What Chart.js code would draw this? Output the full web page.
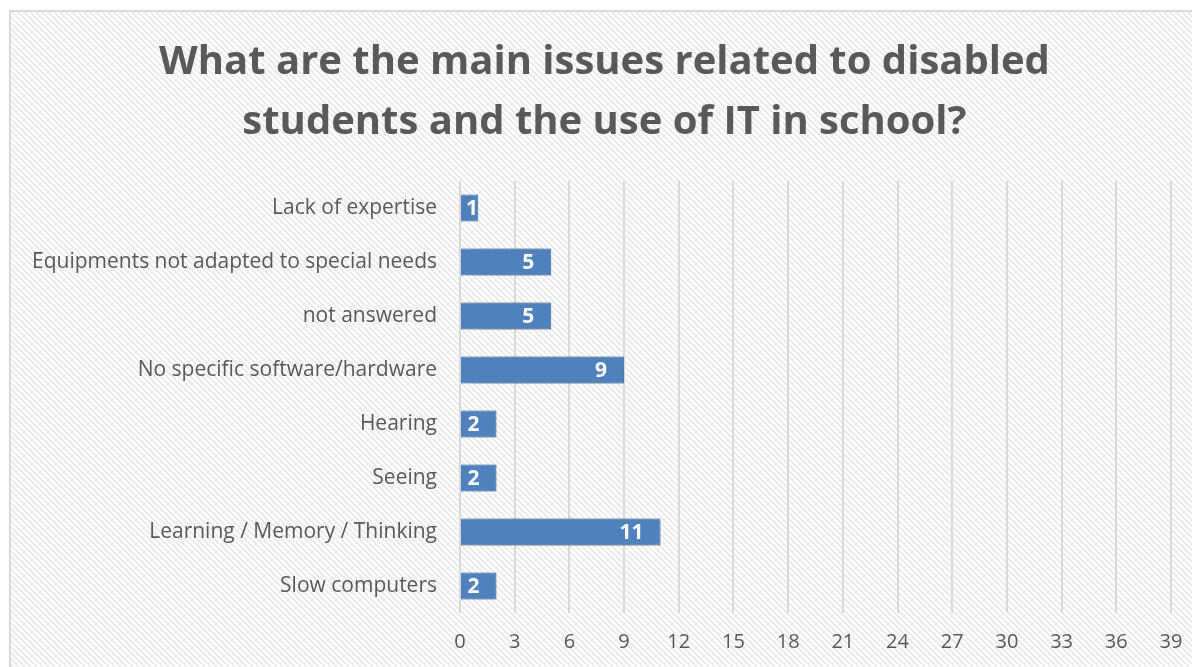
<!DOCTYPE html>
<html>
<head>
<meta charset="utf-8">
<script src="https://cdn.jsdelivr.net/npm/chart.js@4.4.1/dist/chart.umd.min.js"></script>
<style>
  html, body { margin: 0; padding: 0; background: #fff; }
  #wrap { width: 1192px; height: 667px; }
</style>
</head>
<body>
<div id="wrap"><canvas id="issuesChart" width="1192" height="667"></canvas></div>
<script>
var issueLabels = [
    'Lack of expertise',
    'Equipments not adapted to special needs',
    'not answered',
    'No specific software/hardware',
    'Hearing',
    'Seeing',
    'Learning / Memory / Thinking',
    'Slow computers'
];
var issueCounts = [1, 5, 5, 9, 2, 2, 11, 2];
var axisMax = 39;
var axisStep = 3;

var textGray = '#595959';
var fontFamily = "'Open Sans', 'Liberation Sans', sans-serif";

// diagonal hatch used as the chart background
function makeHatch() {
    var tile = document.createElement('canvas');
    tile.width = 6;
    tile.height = 6;
    var t = tile.getContext('2d');
    t.fillStyle = '#ffffff';
    t.fillRect(0, 0, 6, 6);
    t.strokeStyle = '#ebebeb';
    t.lineWidth = 2;
    t.beginPath();
    t.moveTo(-1, -1); t.lineTo(7, 7);
    t.moveTo(-7, -1); t.lineTo(1, 7);
    t.moveTo(5, -1); t.lineTo(13, 7);
    t.stroke();
    return tile;
}

var backgroundPlugin = {
    id: 'hatchBackground',
    beforeDraw: function(chart) {
        var ctx = chart.ctx;
        ctx.save();
        ctx.fillStyle = '#ffffff';
        ctx.fillRect(0, 0, chart.width, chart.height);
        ctx.fillStyle = ctx.createPattern(makeHatch(), 'repeat');
        ctx.fillRect(10, 11, chart.width - 10, chart.height - 11);
        ctx.strokeStyle = '#d9d9d9';
        ctx.lineWidth = 2;
        ctx.strokeRect(10, 11, chart.width + 10, chart.height + 10);
        ctx.restore();
    }
};

// soft shadow behind the bars
var barShadowPlugin = {
    id: 'barShadow',
    beforeDatasetDraw: function(chart) {
        var ctx = chart.ctx;
        ctx.save();
        ctx.shadowColor = 'rgba(0, 0, 0, 0.5)';
        ctx.shadowBlur = 30;
        ctx.shadowOffsetX = 4;
        ctx.shadowOffsetY = 4;
    },
    afterDatasetDraw: function(chart) {
        chart.ctx.restore();
    }
};

// white value labels at the inner end of each bar
var valueLabelPlugin = {
    id: 'valueLabels',
    afterDatasetsDraw: function(chart) {
        var ctx = chart.ctx;
        var meta = chart.getDatasetMeta(0);
        ctx.save();
        ctx.fillStyle = '#ffffff';
        ctx.font = 'bold 21px ' + fontFamily;
        ctx.textAlign = 'right';
        ctx.textBaseline = 'middle';
        meta.data.forEach(function(bar, i) {
            var txt = String(issueCounts[i]);
            var w = ctx.measureText(txt).width;
            var right = Math.max(bar.x - 17, bar.base + 5 + w);
            ctx.fillText(txt, right, bar.y + 1);
        });
        ctx.restore();
    }
};

var ctx = document.getElementById('issuesChart').getContext('2d');
new Chart(ctx, {
    type: 'bar',
    data: {
        labels: issueLabels,
        datasets: [{
            data: issueCounts,
            backgroundColor: '#4f81bd',
            borderColor: '#5b8cc6',
            borderWidth: 1,
            borderSkipped: false,
            categoryPercentage: 1,
            barPercentage: 0.5
        }]
    },
    options: {
        indexAxis: 'y',
        responsive: false,
        animation: false,
        devicePixelRatio: 1,
        layout: {
            padding: { left: 30, right: 13, top: 0, bottom: 0 }
        },
        scales: {
            x: {
                min: 0,
                max: axisMax,
                afterBuildTicks: function(scale) {
                    var ticks = [];
                    for (var v = 0; v <= axisMax; v += axisStep) {
                        ticks.push({ value: v });
                    }
                    scale.ticks = ticks;
                },
                afterFit: function(scale) {
                    // keep the "39" column just inside the right edge
                    scale.height = 54;
                    scale.paddingLeft = 0;
                    scale.paddingRight = 21;
                },
                grid: {
                    color: '#d9d9d9',
                    lineWidth: 2,
                    drawTicks: false
                },
                border: { display: false },
                ticks: {
                    color: textGray,
                    padding: 17,
                    autoSkip: false,
                    maxRotation: 0,
                    font: { family: fontFamily, size: 20 }
                }
            },
            y: {
                afterFit: function(scale) {
                    scale.width = 430;
                },
                grid: { display: false, drawTicks: false },
                border: { display: false },
                ticks: {
                    color: textGray,
                    padding: 23,
                    font: { family: fontFamily, size: 21 }
                }
            }
        },
        plugins: {
            legend: { display: false },
            tooltip: { enabled: false },
            title: {
                display: true,
                text: ['What are the main issues related to disabled', 'students and the use of IT in school?'],
                color: textGray,
                font: { family: fontFamily, size: 40, weight: 'bold', lineHeight: 1.5 },
                padding: { top: 33, bottom: 28 }
            }
        }
    },
    plugins: [backgroundPlugin, barShadowPlugin, valueLabelPlugin]
});
</script>
</body>
</html>
